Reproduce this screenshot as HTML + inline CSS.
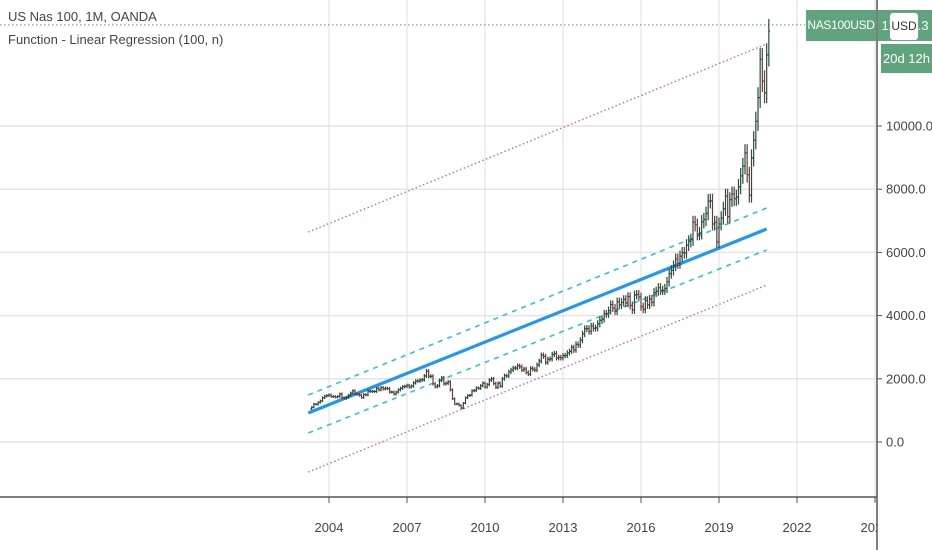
<!DOCTYPE html>
<html><head><meta charset="utf-8"><style>
html,body{margin:0;padding:0;background:#fff;}
svg{display:block;font-family:"Liberation Sans",sans-serif;}
</style></head><body>
<svg id="chart" width="932" height="550" viewBox="0 0 932 550">
<defs><clipPath id="plotclip"><rect x="0" y="0" width="877" height="550"/></clipPath></defs>
</svg>
<script>
const yTicks=[0,2000,4000,6000,8000,10000];
const yearTicks=["2004","2007","2010","2013","2016","2019","2022","2025"];
const startYear=2003+4/12;
const closes=[
1100,1200,1190,1250,1300,1400,1450,1470,
1490,1440,1440,1420,1440,1520,1400,1380,1410,1480,1550,1620,
1520,1510,1480,1410,1500,1490,1610,1600,1600,1600,1700,1650,
1720,1680,1700,1690,1580,1580,1520,1580,1650,1700,1750,1760,
1790,1740,1770,1870,1930,1930,1960,1970,2090,2240,2080,2080,
1840,1750,1780,1950,2030,1840,1860,1900,1650,1370,1200,1210,
1160,1070,1230,1400,1470,1480,1620,1630,1710,1700,1780,1860,
1740,1820,1960,2000,1850,1730,1860,1770,2000,2100,2090,2220,
2280,2340,2340,2410,2380,2280,2310,2200,2150,2330,2300,2280,
2440,2560,2750,2710,2520,2620,2630,2770,2800,2660,2680,2660,
2730,2740,2820,2870,2990,2910,3090,3070,3220,3420,3580,3590,
3500,3670,3600,3610,3740,3850,3890,4060,4050,4160,4350,4240,
4140,4440,4340,4420,4510,4400,4600,4320,4180,4650,4670,4590,
4280,4200,4480,4340,4520,4420,4730,4770,4880,4800,4800,4860,
5070,5330,5430,5580,5790,5650,5880,5990,5980,6230,6350,6400,
6950,6870,6580,6610,6970,7040,7230,7620,7630,6900,6950,6330,
6900,7090,7380,7780,7130,7670,7850,7700,7750,8080,8420,8730,
9150,8460,7810,8990,9550,10150,10900,12110,11420,11050,12250,13000];
const regStart=[918,1487,285,6645,-950];
const regEnd=[6740,7405,6076,12595,4968];
const lastPrice=13200;

const NS="http://www.w3.org/2000/svg";
const svg=document.getElementById('chart');
function yS(v){return 442-v*0.0316;}
function xS(t){return 329+(t-2004)*26;}
function mk(tag,attrs,parent){const e=document.createElementNS(NS,tag);for(const k in attrs)e.setAttribute(k,attrs[k]);(parent||svg).appendChild(e);return e;}

yTicks.forEach(v=>{
  const g=mk('line',{x1:0,x2:877,y1:yS(v),y2:yS(v),stroke:'#e4e4e4','stroke-width':1.5});
  
  
});
yearTicks.forEach(t=>{
  const x=xS(+t);
  const g=mk('line',{x1:x,x2:x,y1:0,y2:497,stroke:'#e4e4e4','stroke-width':1.2});
  
  
});

const regStyles=[
 {stroke:'#2196f3','stroke-width':3.2,name:'regression-line'},
 {stroke:'#26c6da','stroke-width':1.6,'stroke-dasharray':'5,5',name:'upper-std-band'},
 {stroke:'#26c6da','stroke-width':1.6,'stroke-dasharray':'5,5',name:'lower-std-band'},
 {stroke:'#ba68c8','stroke-width':1.4,'stroke-dasharray':'1.5,2.5',name:'upper-channel'},
 {stroke:'#ba68c8','stroke-width':1.4,'stroke-dasharray':'1.5,2.5',name:'lower-channel'}];
const tEnd=startYear+(closes.length-2)/12;
regStart.forEach((v,i)=>{
  const s=regStyles[i];
  const a={x1:xS(startYear-0.13),x2:xS(tEnd),y1:yS(v),y2:yS(regEnd[i]),fill:'none'};
  for(const k in s) if(k!=='name') a[k]=s[k];
  const l=mk('line',a);
  
  
});

const lp=mk('line',{x1:0,x2:805,y1:yS(lastPrice),y2:yS(lastPrice),stroke:'#4a9a70','stroke-width':1,'stroke-dasharray':'1.5,2.5'});



let prev=closes[0]*0.95;
closes.forEach((c,i)=>{
  const o=prev;
  const hi=Math.max(o,c)*1.03, lo=Math.min(o,c)*0.97;
  const x=xS(startYear+i/12);
  const col=c>=o?'#264d3c':'#6e3a3a';
  const g=mk('g',{stroke:col,'stroke-width':1.2});
  
  
  mk('line',{x1:x,x2:x,y1:yS(hi),y2:yS(lo)},g);
  mk('line',{x1:x-1.2,x2:x,y1:yS(o),y2:yS(o)},g);
  mk('line',{x1:x,x2:x+1.2,y1:yS(c),y2:yS(c)},g);
  prev=c;
});

const xa=mk('line',{x1:0,x2:877,y1:497,y2:497,stroke:'#555','stroke-width':1.5});


const ya=mk('line',{x1:877,x2:877,y1:0,y2:550,stroke:'#555','stroke-width':1.5});


yTicks.forEach(v=>{
  mk('line',{x1:877,x2:882,y1:yS(v),y2:yS(v),stroke:'#555'});
  const t=mk('text',{x:886,y:yS(v)+4.5,'font-size':13,fill:'#444'});
  t.textContent=v.toFixed(1);
  
  
});
yearTicks.forEach(y=>{
  const x=xS(+y);
  mk('line',{x1:x,x2:x,y1:497,y2:503,stroke:'#555'});
  const t=mk('text',{x:x,y:532,'font-size':13,fill:'#444','text-anchor':'middle','clip-path':'url(#plotclip)'});
  t.textContent=y;
  
  
});
</script>
<div style="position:absolute;left:8px;top:9px;font:13px 'Liberation Sans',sans-serif;color:#444;">US Nas 100, 1M, OANDA</div>
<div style="position:absolute;left:8px;top:32px;font:13px 'Liberation Sans',sans-serif;color:#444;">Function - Linear Regression (100, n)</div>
<div style="position:absolute;left:806px;top:10px;width:70px;height:31px;background:#5fa47c;color:#fff;font:12px 'Liberation Sans',sans-serif;letter-spacing:-0.3px;line-height:31px;text-align:center;overflow:hidden;">NAS100USD</div>
<div style="position:absolute;left:878px;top:10px;width:54px;height:31px;background:#5fa47c;color:#fff;font:13px 'Liberation Sans',sans-serif;line-height:31px;text-align:center;">12800.3</div>
<div style="position:absolute;left:890px;top:13px;width:28px;height:27px;background:#fff;border-radius:3px;color:#333;font:12px 'Liberation Sans',sans-serif;line-height:27px;text-align:center;box-shadow:0 0 2px #999;">USD</div>
<div style="position:absolute;left:881px;top:44px;width:51px;height:29px;background:#5fa47c;color:#fff;font:13px 'Liberation Sans',sans-serif;line-height:29px;text-align:center;">20d 12h</div>
</body></html>
